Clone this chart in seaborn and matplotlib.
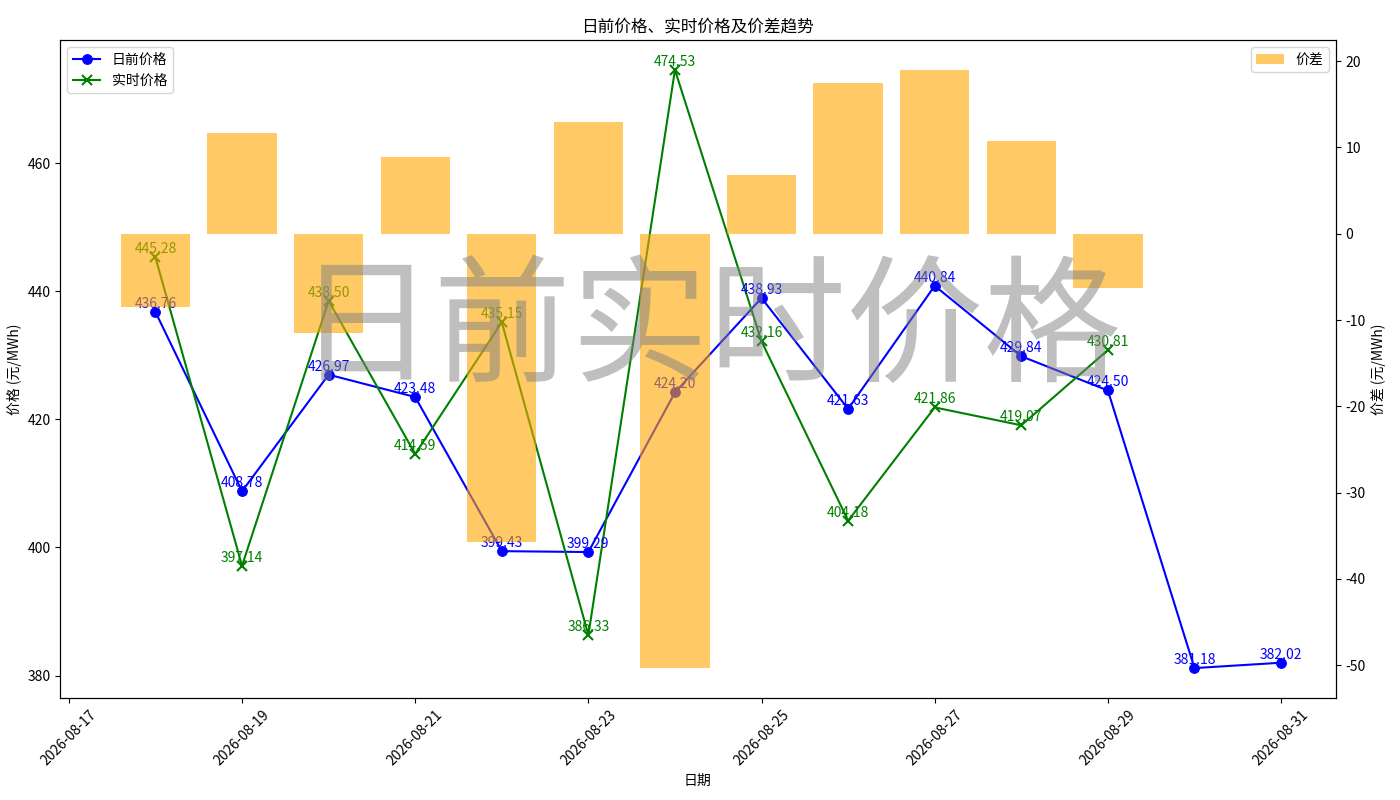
import numpy as np
import pandas as pd
import matplotlib
matplotlib.use("Agg")
import matplotlib.pyplot as plt
import matplotlib.dates as mdates
import seaborn as sns

plt.rcParams["font.family"] = ["Noto Sans CJK SC", "DejaVu Sans"]
plt.rcParams["axes.unicode_minus"] = False

# =============================================================================
# DATOS
# =============================================================================
fechas = pd.date_range("2026-08-18", "2026-08-31", freq="D")

precio_dia = [436.76, 408.78, 426.97, 423.48, 399.43, 399.29, 424.20,
              438.93, 421.63, 440.84, 429.84, 424.50, 381.18, 382.02]

precio_rt = [445.28, 397.14, 438.50, 414.59, 435.15, 386.33, 474.53,
             432.16, 404.18, 421.86, 419.07, 430.81, np.nan, np.nan]

diferencia = [-8.52, 11.64, -11.53, 8.89, -35.72, 12.96, -50.33,
              6.77, 17.45, 18.98, 10.77, -6.31, np.nan, np.nan]

df = pd.DataFrame({"fecha": fechas, "dia": precio_dia,
                   "rt": precio_rt, "dif": diferencia})

# =============================================================================
# GRAFICO
# =============================================================================
fig, ax1 = plt.subplots(figsize=(14, 8), dpi=100)

sns.lineplot(data=df, x="fecha", y="dia", ax=ax1, color="blue", marker="o",
             markersize=7, markeredgecolor="blue", label="日前价格")
sns.lineplot(data=df.dropna(), x="fecha", y="rt", ax=ax1, color="green",
             marker="x", markersize=7, markeredgecolor="green",
             markeredgewidth=1.5, label="实时价格")

for f, v in zip(df["fecha"], df["dia"]):
    ax1.annotate(f"{v:.2f}", (f, v), textcoords="offset points", xytext=(0, 3),
                 ha="center", fontsize=10, color="blue")

for f, v in zip(df["fecha"], df["rt"]):
    if not np.isnan(v):
        ax1.annotate(f"{v:.2f}", (f, v), textcoords="offset points",
                     xytext=(0, 3), ha="center", fontsize=10, color="green")

ax1.set_xlabel("日期")
ax1.set_ylabel("价格 (元/MWh)")
ax1.legend(loc="upper left")

ax2 = ax1.twinx()
ax2.bar(df["fecha"], df["dif"], width=0.8, color="orange", alpha=0.6,
        label="价差")
ax2.set_ylabel("价差 (元/MWh)")
ax2.legend(loc="upper right")

ax1.set_xlim(pd.Timestamp("2026-08-16 21:36"), pd.Timestamp("2026-08-31 15:07"))
ax1.xaxis.set_major_locator(mdates.DayLocator(bymonthday=range(1, 32, 2)))
ax1.xaxis.set_major_formatter(mdates.DateFormatter("%Y-%m-%d"))
plt.setp(ax1.get_xticklabels(), rotation=45)

ax1.set_title("日前价格、实时价格及价差趋势")

fig.subplots_adjust(left=0.043, right=0.954, top=0.95, bottom=0.1275)

fig.text(0.507, 0.585, "日前实时价格", fontsize=99, color="gray", alpha=0.5,
         ha="center", va="center")

fig.savefig("out.png")
